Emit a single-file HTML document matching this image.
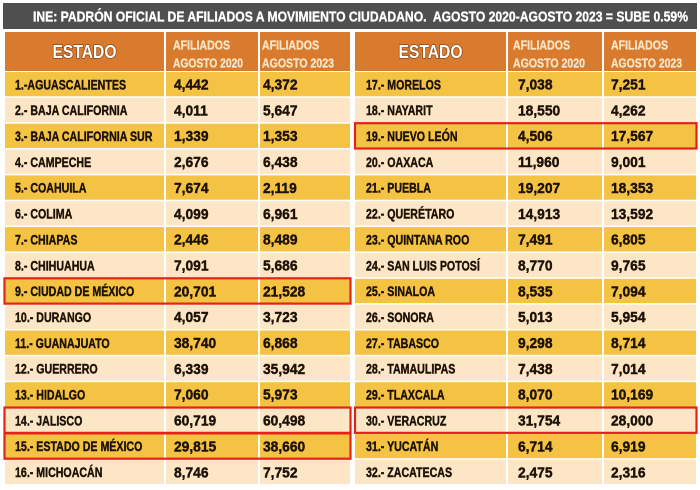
<!DOCTYPE html>
<html><head><meta charset="utf-8"><style>
html,body{margin:0;padding:0;background:#fff;width:700px;height:490px;overflow:hidden}
svg{display:block}
text{font-family:"Liberation Sans",Arial,sans-serif;font-weight:bold}
.n{font-size:14px;fill:#1e1206;stroke:#1e1206;stroke-width:.45}
.v{font-size:15px;fill:#1e1206;stroke:#1e1206;stroke-width:.45}
.h{font-size:13px;fill:#fbe4c4;stroke:#fbe4c4;stroke-width:.35}
.e{font-size:18px;fill:#fff;stroke:#8f4515;stroke-width:1.6;paint-order:stroke fill;stroke-linejoin:round}
.t{fill:#fff;stroke:#fff;stroke-width:.35}
.y rect{fill:#f5c343}
.l rect{fill:#fde6c5}
.o rect{fill:#d97b2e}
.r{fill:none;stroke:#e2231a;stroke-width:2.2}
</style></head><body>
<svg width="700" height="490" viewBox="0 0 700 490" xmlns="http://www.w3.org/2000/svg">
<rect x="0" y="0" width="700" height="490" fill="#fff"/>
<rect x="3" y="3" width="694" height="26" fill="#4f4f4f"/>
<text class="t" x="33" y="21.5" font-size="14.5" textLength="655" lengthAdjust="spacingAndGlyphs">INE: PADRÓN OFICIAL DE AFILIADOS A MOVIMIENTO CIUDADANO.&#160; AGOSTO 2020-AGOSTO 2023 = SUBE 0.59%</text>

<!-- headers -->
<g class="o">
<rect x="5" y="32" width="159" height="39"/><rect x="166" y="32" width="92" height="39"/><rect x="260" y="32" width="90" height="39"/>
<rect x="355" y="32" width="151" height="39"/><rect x="508" y="32" width="94" height="39"/><rect x="604" y="32" width="92" height="39"/>
</g>
<text class="e" x="84.5" y="58" text-anchor="middle" textLength="64" lengthAdjust="spacingAndGlyphs">ESTADO</text>
<text class="e" x="430.5" y="58" text-anchor="middle" textLength="64" lengthAdjust="spacingAndGlyphs">ESTADO</text>
<text class="h" x="173" y="49.5" textLength="57" lengthAdjust="spacingAndGlyphs">AFILIADOS</text>
<text class="h" x="173" y="67.5" textLength="70" lengthAdjust="spacingAndGlyphs">AGOSTO 2020</text>
<text class="h" x="262" y="49.5" textLength="57" lengthAdjust="spacingAndGlyphs">AFILIADOS</text>
<text class="h" x="262" y="67.5" textLength="72" lengthAdjust="spacingAndGlyphs">AGOSTO 2023</text>
<text class="h" x="513" y="49.5" textLength="57" lengthAdjust="spacingAndGlyphs">AFILIADOS</text>
<text class="h" x="513" y="67.5" textLength="72" lengthAdjust="spacingAndGlyphs">AGOSTO 2020</text>
<text class="h" x="611" y="49.5" textLength="57" lengthAdjust="spacingAndGlyphs">AFILIADOS</text>
<text class="h" x="611" y="67.5" textLength="71" lengthAdjust="spacingAndGlyphs">AGOSTO 2023</text>

<!-- LEFT TABLE -->
<g class="y" transform="translate(0,72)"><rect x="5" width="159" height="24.3"/><rect x="166" width="92" height="24.3"/><rect x="260" width="90" height="24.3"/>
<text class="n" transform="translate(15,17.3) scale(.76,1)">1.-AGUASCALIENTES</text><text class="v" transform="translate(174,17.5) scale(.92,1)">4,442</text><text class="v" transform="translate(263,17.5) scale(.92,1)">4,372</text></g>
<g class="l" transform="translate(0,97.85)"><rect x="5" width="159" height="24.3"/><rect x="166" width="92" height="24.3"/><rect x="260" width="90" height="24.3"/>
<text class="n" transform="translate(15,17.3) scale(.76,1)">2.- BAJA CALIFORNIA</text><text class="v" transform="translate(174,17.5) scale(.92,1)">4,011</text><text class="v" transform="translate(263,17.5) scale(.92,1)">5,647</text></g>
<g class="y" transform="translate(0,123.7)"><rect x="5" width="159" height="24.3"/><rect x="166" width="92" height="24.3"/><rect x="260" width="90" height="24.3"/>
<text class="n" transform="translate(15,17.3) scale(.76,1)">3.- BAJA CALIFORNIA SUR</text><text class="v" transform="translate(174,17.5) scale(.92,1)">1,339</text><text class="v" transform="translate(263,17.5) scale(.92,1)">1,353</text></g>
<g class="l" transform="translate(0,149.55)"><rect x="5" width="159" height="24.3"/><rect x="166" width="92" height="24.3"/><rect x="260" width="90" height="24.3"/>
<text class="n" transform="translate(15,17.3) scale(.76,1)">4.- CAMPECHE</text><text class="v" transform="translate(174,17.5) scale(.92,1)">2,676</text><text class="v" transform="translate(263,17.5) scale(.92,1)">6,438</text></g>
<g class="y" transform="translate(0,175.4)"><rect x="5" width="159" height="24.3"/><rect x="166" width="92" height="24.3"/><rect x="260" width="90" height="24.3"/>
<text class="n" transform="translate(15,17.3) scale(.76,1)">5.- COAHUILA</text><text class="v" transform="translate(174,17.5) scale(.92,1)">7,674</text><text class="v" transform="translate(263,17.5) scale(.92,1)">2,119</text></g>
<g class="l" transform="translate(0,201.25)"><rect x="5" width="159" height="24.3"/><rect x="166" width="92" height="24.3"/><rect x="260" width="90" height="24.3"/>
<text class="n" transform="translate(15,17.3) scale(.76,1)">6.- COLIMA</text><text class="v" transform="translate(174,17.5) scale(.92,1)">4,099</text><text class="v" transform="translate(263,17.5) scale(.92,1)">6,961</text></g>
<g class="y" transform="translate(0,227.1)"><rect x="5" width="159" height="24.3"/><rect x="166" width="92" height="24.3"/><rect x="260" width="90" height="24.3"/>
<text class="n" transform="translate(15,17.3) scale(.76,1)">7.- CHIAPAS</text><text class="v" transform="translate(174,17.5) scale(.92,1)">2,446</text><text class="v" transform="translate(263,17.5) scale(.92,1)">8,489</text></g>
<g class="l" transform="translate(0,252.95)"><rect x="5" width="159" height="24.3"/><rect x="166" width="92" height="24.3"/><rect x="260" width="90" height="24.3"/>
<text class="n" transform="translate(15,17.3) scale(.76,1)">8.- CHIHUAHUA</text><text class="v" transform="translate(174,17.5) scale(.92,1)">7,091</text><text class="v" transform="translate(263,17.5) scale(.92,1)">5,686</text></g>
<g class="y" transform="translate(0,278.8)"><rect x="5" width="159" height="24.3"/><rect x="166" width="92" height="24.3"/><rect x="260" width="90" height="24.3"/>
<text class="n" transform="translate(15,17.3) scale(.76,1)">9.- CIUDAD DE MÉXICO</text><text class="v" transform="translate(174,17.5) scale(.92,1)">20,701</text><text class="v" transform="translate(263,17.5) scale(.92,1)">21,528</text></g>
<g class="l" transform="translate(0,304.65)"><rect x="5" width="159" height="24.3"/><rect x="166" width="92" height="24.3"/><rect x="260" width="90" height="24.3"/>
<text class="n" transform="translate(15,17.3) scale(.76,1)">10.- DURANGO</text><text class="v" transform="translate(174,17.5) scale(.92,1)">4,057</text><text class="v" transform="translate(263,17.5) scale(.92,1)">3,723</text></g>
<g class="y" transform="translate(0,330.5)"><rect x="5" width="159" height="24.3"/><rect x="166" width="92" height="24.3"/><rect x="260" width="90" height="24.3"/>
<text class="n" transform="translate(15,17.3) scale(.76,1)">11.- GUANAJUATO</text><text class="v" transform="translate(174,17.5) scale(.92,1)">38,740</text><text class="v" transform="translate(263,17.5) scale(.92,1)">6,868</text></g>
<g class="l" transform="translate(0,356.35)"><rect x="5" width="159" height="24.3"/><rect x="166" width="92" height="24.3"/><rect x="260" width="90" height="24.3"/>
<text class="n" transform="translate(15,17.3) scale(.76,1)">12.- GUERRERO</text><text class="v" transform="translate(174,17.5) scale(.92,1)">6,339</text><text class="v" transform="translate(263,17.5) scale(.92,1)">35,942</text></g>
<g class="y" transform="translate(0,382.2)"><rect x="5" width="159" height="24.3"/><rect x="166" width="92" height="24.3"/><rect x="260" width="90" height="24.3"/>
<text class="n" transform="translate(15,17.3) scale(.76,1)">13.- HIDALGO</text><text class="v" transform="translate(174,17.5) scale(.92,1)">7,060</text><text class="v" transform="translate(263,17.5) scale(.92,1)">5,973</text></g>
<g class="l" transform="translate(0,408.05)"><rect x="5" width="159" height="24.3"/><rect x="166" width="92" height="24.3"/><rect x="260" width="90" height="24.3"/>
<text class="n" transform="translate(15,17.3) scale(.76,1)">14.- JALISCO</text><text class="v" transform="translate(174,17.5) scale(.92,1)">60,719</text><text class="v" transform="translate(263,17.5) scale(.92,1)">60,498</text></g>
<g class="y" transform="translate(0,433.9)"><rect x="5" width="159" height="24.3"/><rect x="166" width="92" height="24.3"/><rect x="260" width="90" height="24.3"/>
<text class="n" transform="translate(15,17.3) scale(.76,1)">15.- ESTADO DE MÉXICO</text><text class="v" transform="translate(174,17.5) scale(.92,1)">29,815</text><text class="v" transform="translate(263,17.5) scale(.92,1)">38,660</text></g>
<g class="l" transform="translate(0,459.75)"><rect x="5" width="159" height="24.3"/><rect x="166" width="92" height="24.3"/><rect x="260" width="90" height="24.3"/>
<text class="n" transform="translate(15,17.3) scale(.76,1)">16.- MICHOACÁN</text><text class="v" transform="translate(174,17.5) scale(.92,1)">8,746</text><text class="v" transform="translate(263,17.5) scale(.92,1)">7,752</text></g>

<!-- RIGHT TABLE -->
<g class="y" transform="translate(0,72)"><rect x="355" width="151" height="24.3"/><rect x="508" width="94" height="24.3"/><rect x="604" width="92" height="24.3"/>
<text class="n" transform="translate(366,17.3) scale(.76,1)">17.- MORELOS</text><text class="v" transform="translate(518,17.5) scale(.92,1)">7,038</text><text class="v" transform="translate(611,17.5) scale(.92,1)">7,251</text></g>
<g class="l" transform="translate(0,97.85)"><rect x="355" width="151" height="24.3"/><rect x="508" width="94" height="24.3"/><rect x="604" width="92" height="24.3"/>
<text class="n" transform="translate(366,17.3) scale(.76,1)">18.- NAYARIT</text><text class="v" transform="translate(518,17.5) scale(.92,1)">18,550</text><text class="v" transform="translate(611,17.5) scale(.92,1)">4,262</text></g>
<g class="y" transform="translate(0,123.7)"><rect x="355" width="151" height="24.3"/><rect x="508" width="94" height="24.3"/><rect x="604" width="92" height="24.3"/>
<text class="n" transform="translate(366,17.3) scale(.76,1)">19.- NUEVO LEÓN</text><text class="v" transform="translate(518,17.5) scale(.92,1)">4,506</text><text class="v" transform="translate(611,17.5) scale(.92,1)">17,567</text></g>
<g class="l" transform="translate(0,149.55)"><rect x="355" width="151" height="24.3"/><rect x="508" width="94" height="24.3"/><rect x="604" width="92" height="24.3"/>
<text class="n" transform="translate(366,17.3) scale(.76,1)">20.- OAXACA</text><text class="v" transform="translate(518,17.5) scale(.92,1)">11,960</text><text class="v" transform="translate(611,17.5) scale(.92,1)">9,001</text></g>
<g class="y" transform="translate(0,175.4)"><rect x="355" width="151" height="24.3"/><rect x="508" width="94" height="24.3"/><rect x="604" width="92" height="24.3"/>
<text class="n" transform="translate(366,17.3) scale(.76,1)">21.- PUEBLA</text><text class="v" transform="translate(518,17.5) scale(.92,1)">19,207</text><text class="v" transform="translate(611,17.5) scale(.92,1)">18,353</text></g>
<g class="l" transform="translate(0,201.25)"><rect x="355" width="151" height="24.3"/><rect x="508" width="94" height="24.3"/><rect x="604" width="92" height="24.3"/>
<text class="n" transform="translate(366,17.3) scale(.76,1)">22.- QUERÉTARO</text><text class="v" transform="translate(518,17.5) scale(.92,1)">14,913</text><text class="v" transform="translate(611,17.5) scale(.92,1)">13,592</text></g>
<g class="y" transform="translate(0,227.1)"><rect x="355" width="151" height="24.3"/><rect x="508" width="94" height="24.3"/><rect x="604" width="92" height="24.3"/>
<text class="n" transform="translate(366,17.3) scale(.76,1)">23.- QUINTANA ROO</text><text class="v" transform="translate(518,17.5) scale(.92,1)">7,491</text><text class="v" transform="translate(611,17.5) scale(.92,1)">6,805</text></g>
<g class="l" transform="translate(0,252.95)"><rect x="355" width="151" height="24.3"/><rect x="508" width="94" height="24.3"/><rect x="604" width="92" height="24.3"/>
<text class="n" transform="translate(366,17.3) scale(.76,1)">24.- SAN LUIS POTOSÍ</text><text class="v" transform="translate(518,17.5) scale(.92,1)">8,770</text><text class="v" transform="translate(611,17.5) scale(.92,1)">9,765</text></g>
<g class="y" transform="translate(0,278.8)"><rect x="355" width="151" height="24.3"/><rect x="508" width="94" height="24.3"/><rect x="604" width="92" height="24.3"/>
<text class="n" transform="translate(366,17.3) scale(.76,1)">25.- SINALOA</text><text class="v" transform="translate(518,17.5) scale(.92,1)">8,535</text><text class="v" transform="translate(611,17.5) scale(.92,1)">7,094</text></g>
<g class="l" transform="translate(0,304.65)"><rect x="355" width="151" height="24.3"/><rect x="508" width="94" height="24.3"/><rect x="604" width="92" height="24.3"/>
<text class="n" transform="translate(366,17.3) scale(.76,1)">26.- SONORA</text><text class="v" transform="translate(518,17.5) scale(.92,1)">5,013</text><text class="v" transform="translate(611,17.5) scale(.92,1)">5,954</text></g>
<g class="y" transform="translate(0,330.5)"><rect x="355" width="151" height="24.3"/><rect x="508" width="94" height="24.3"/><rect x="604" width="92" height="24.3"/>
<text class="n" transform="translate(366,17.3) scale(.76,1)">27.- TABASCO</text><text class="v" transform="translate(518,17.5) scale(.92,1)">9,298</text><text class="v" transform="translate(611,17.5) scale(.92,1)">8,714</text></g>
<g class="l" transform="translate(0,356.35)"><rect x="355" width="151" height="24.3"/><rect x="508" width="94" height="24.3"/><rect x="604" width="92" height="24.3"/>
<text class="n" transform="translate(366,17.3) scale(.76,1)">28.- TAMAULIPAS</text><text class="v" transform="translate(518,17.5) scale(.92,1)">7,438</text><text class="v" transform="translate(611,17.5) scale(.92,1)">7,014</text></g>
<g class="y" transform="translate(0,382.2)"><rect x="355" width="151" height="24.3"/><rect x="508" width="94" height="24.3"/><rect x="604" width="92" height="24.3"/>
<text class="n" transform="translate(366,17.3) scale(.76,1)">29.- TLAXCALA</text><text class="v" transform="translate(518,17.5) scale(.92,1)">8,070</text><text class="v" transform="translate(611,17.5) scale(.92,1)">10,169</text></g>
<g class="l" transform="translate(0,408.05)"><rect x="355" width="151" height="24.3"/><rect x="508" width="94" height="24.3"/><rect x="604" width="92" height="24.3"/>
<text class="n" transform="translate(366,17.3) scale(.76,1)">30.- VERACRUZ</text><text class="v" transform="translate(518,17.5) scale(.92,1)">31,754</text><text class="v" transform="translate(611,17.5) scale(.92,1)">28,000</text></g>
<g class="y" transform="translate(0,433.9)"><rect x="355" width="151" height="24.3"/><rect x="508" width="94" height="24.3"/><rect x="604" width="92" height="24.3"/>
<text class="n" transform="translate(366,17.3) scale(.76,1)">31.- YUCATÁN</text><text class="v" transform="translate(518,17.5) scale(.92,1)">6,714</text><text class="v" transform="translate(611,17.5) scale(.92,1)">6,919</text></g>
<g class="l" transform="translate(0,459.75)"><rect x="355" width="151" height="24.3"/><rect x="508" width="94" height="24.3"/><rect x="604" width="92" height="24.3"/>
<text class="n" transform="translate(366,17.3) scale(.76,1)">32.- ZACATECAS</text><text class="v" transform="translate(518,17.5) scale(.92,1)">2,475</text><text class="v" transform="translate(611,17.5) scale(.92,1)">2,316</text></g>

<!-- red highlight boxes -->
<rect class="r" x="4.5" y="278.3" width="346" height="25.3"/>
<rect class="r" x="4.5" y="407.55" width="346" height="25.3"/>
<rect class="r" x="4.5" y="433.4" width="346" height="25.3"/>
<rect class="r" x="355" y="123.2" width="341.5" height="25.3"/>
<rect class="r" x="355" y="407.55" width="341.5" height="25.3"/>
</svg>
</body></html>
